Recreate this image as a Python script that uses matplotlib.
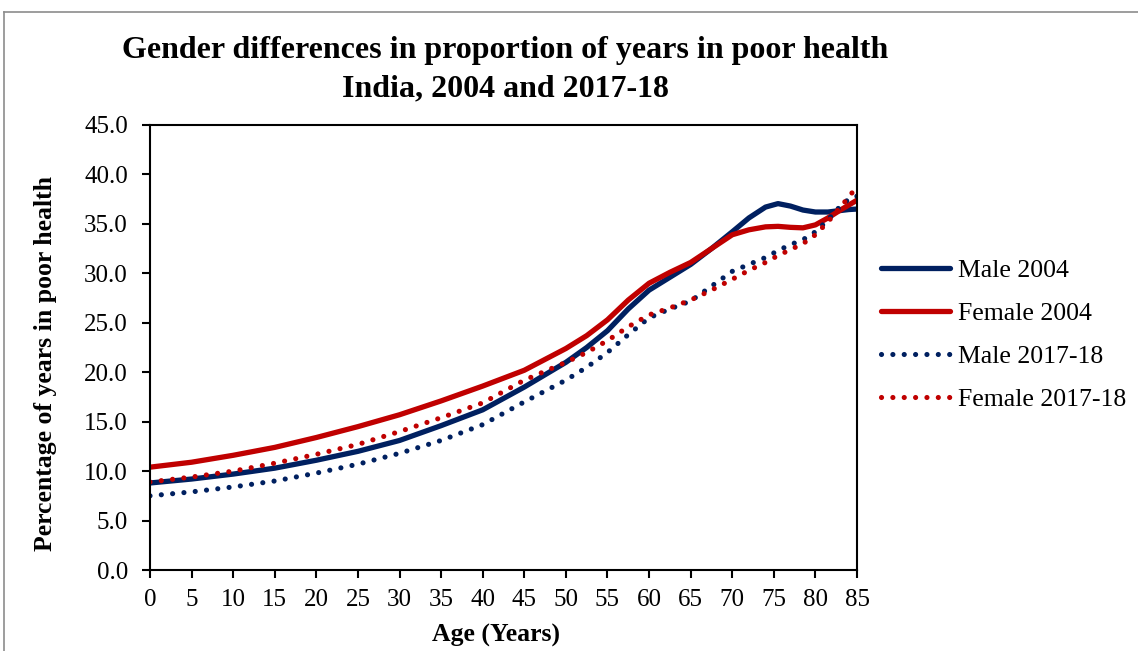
import matplotlib.pyplot as plt
from matplotlib.lines import Line2D
from matplotlib.ticker import FormatStrFormatter

plt.rcParams['font.family'] = ['Liberation Serif', 'DejaVu Serif']

ages = [0, 5, 10, 15, 20, 25, 30, 35, 40, 45, 50, 52.5, 55, 57.5, 60,
        62.5, 65, 67.5, 70, 72, 74, 75.5, 77, 78.5, 80, 81.5, 83, 84, 85]

male_2004 = [8.8, 9.2, 9.7, 10.3, 11.1, 12.0, 13.1, 14.6, 16.2, 18.5, 21.0,
             22.5, 24.2, 26.4, 28.3, 29.6, 30.9, 32.5, 34.2, 35.6, 36.7,
             37.05, 36.8, 36.4, 36.2, 36.2, 36.35, 36.45, 36.5]
female_2004 = [10.4, 10.9, 11.6, 12.4, 13.4, 14.5, 15.7, 17.1, 18.6, 20.2, 22.4,
               23.7, 25.3, 27.3, 29.0, 30.1, 31.1, 32.5, 33.9, 34.4, 34.7,
               34.75, 34.65, 34.6, 34.9, 35.6, 36.4, 36.9, 37.4]
male_2018 = [7.5, 7.9, 8.4, 9.0, 9.8, 10.7, 11.8, 13.1, 14.7, 17.0, 19.2,
             20.5, 22.0, 23.8, 25.5, 26.4, 27.2, 28.7, 30.2, 30.9, 31.6,
             32.3, 32.9, 33.4, 34.2, 35.4, 36.8, 37.5, 37.8]
female_2018 = [8.9, 9.4, 10.0, 10.8, 11.7, 12.7, 14.0, 15.4, 16.9, 19.2, 21.0,
               22.0, 23.2, 24.6, 25.8, 26.5, 27.3, 28.3, 29.4, 30.3, 31.1,
               31.8, 32.4, 33.0, 33.9, 35.2, 36.7, 37.7, 38.8]

navy = '#002060'
red = '#C00000'

fig = plt.figure(figsize=(11.38, 6.51), dpi=100)
ax = fig.add_axes([0.1318, 0.1244, 0.6213, 0.6836])

ax.plot(ages, male_2004, color=navy, lw=3.8, solid_capstyle='round',
        solid_joinstyle='round', label='Male 2004')
ax.plot(ages, female_2004, color=red, lw=3.8, solid_capstyle='round',
        solid_joinstyle='round', label='Female 2004')
ax.plot(ages, male_2018, color=navy, lw=3.7, dashes=(0.01, 2.2),
        dash_capstyle='round', label='Male 2017-18')
ax.plot(ages, female_2018, color=red, lw=3.7, dashes=(0.01, 2.2),
        dash_capstyle='round', label='Female 2017-18')

ax.set_xlim(0, 85)
ax.set_ylim(0, 45)
ax.set_xticks(range(0, 86, 5))
ax.set_yticks(range(0, 46, 5))
ax.yaxis.set_major_formatter(FormatStrFormatter('%.1f'))
ax.tick_params(direction='out', length=6, width=1.5, labelsize=18, colors='black')
ax.tick_params(axis='y', pad=10)
ax.tick_params(axis='x', pad=8)
for s in ax.spines.values():
    s.set_linewidth(1.5)
    s.set_color('black')

ax.set_xlabel('Age (Years)', fontsize=18.5, fontweight='bold')
ax.set_ylabel('Percentage of years in poor health', fontsize=18.5, fontweight='bold')
ax.xaxis.set_label_coords(0.49, -0.12)
ax.yaxis.set_label_coords(-0.132, 0.463)

fig.text(0.444, 0.922, 'Gender differences in proportion of years in poor health',
         ha='center', va='center', fontsize=23, fontweight='bold')
fig.text(0.444, 0.864, 'India, 2004 and 2017-18',
         ha='center', va='center', fontsize=23, fontweight='bold')

fig.legend(loc='center left', bbox_to_anchor=(0.774, 0.486), frameon=False,
           fontsize=18.5, handlelength=2.7, handletextpad=0.3, labelspacing=0.78,
           borderpad=0, borderaxespad=0)

# thin grey frame around the chart area
fig.add_artist(Line2D([4 / 1138, 4 / 1138], [0, 1 - 12 / 651], color='#8c8c8c', lw=1.2))
fig.add_artist(Line2D([4 / 1138, 1], [1 - 12 / 651, 1 - 12 / 651], color='#8c8c8c', lw=1.2))

fig.savefig('out.png', dpi=100)
